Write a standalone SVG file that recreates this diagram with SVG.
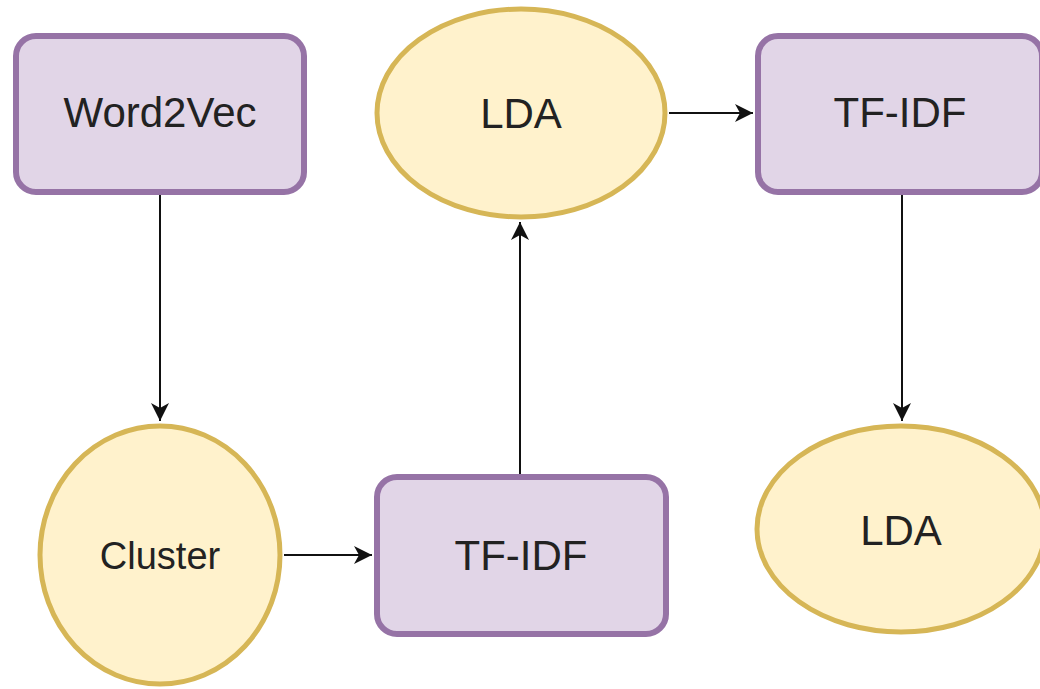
<svg xmlns="http://www.w3.org/2000/svg" width="1040" height="689" viewBox="0 0 1040 689">
<style>
.rect{fill:#e1d5e7;stroke:#9673a6;stroke-width:6}
.ell{fill:#fff2cc;stroke:#d6b656;stroke-width:5}
.lbl{font-family:"Liberation Sans",Arial,sans-serif;font-size:42px;fill:#222;text-anchor:middle}
.edge{fill:none;stroke:#111;stroke-width:2;marker-end:url(#arr)}
</style>
<defs>
<marker id="arr" viewBox="-18 -10 20 20" refX="0" refY="0" markerWidth="20" markerHeight="20" markerUnits="userSpaceOnUse" orient="auto">
<path d="M0,0 L-18,-9 L-13,0 L-18,9 Z" fill="#111"/>
</marker>
</defs>
<rect width="1040" height="689" fill="#fff"/>
<g id="edges">
<path class="edge" d="M160,195 L160,421"/>
<path class="edge" d="M284,555 L372,555"/>
<path class="edge" d="M520,474 L520,222"/>
<path class="edge" d="M669,113 L753,113"/>
<path class="edge" d="M902,195 L902,421"/>
</g>
<g id="word2vec">
<rect class="rect" x="16" y="36" width="288" height="156" rx="20" ry="20"/>
<text class="lbl" x="160" y="127">Word2Vec</text>
</g>
<g id="lda1">
<ellipse class="ell" cx="521" cy="113" rx="144" ry="104"/>
<text class="lbl" x="521" y="128">LDA</text>
</g>
<g id="tfidf1">
<rect class="rect" x="758" y="36" width="284" height="156" rx="20" ry="20"/>
<text class="lbl" x="900" y="127">TF-IDF</text>
</g>
<g id="cluster">
<ellipse class="ell" cx="160" cy="555" rx="120" ry="129"/>
<text class="lbl" x="160" y="569" style="font-size:38px">Cluster</text>
</g>
<g id="tfidf2">
<rect class="rect" x="377" y="477" width="289" height="157" rx="20" ry="20"/>
<text class="lbl" x="521" y="570">TF-IDF</text>
</g>
<g id="lda2">
<ellipse class="ell" cx="901" cy="529" rx="144" ry="103"/>
<text class="lbl" x="901" y="545">LDA</text>
</g>
</svg>
